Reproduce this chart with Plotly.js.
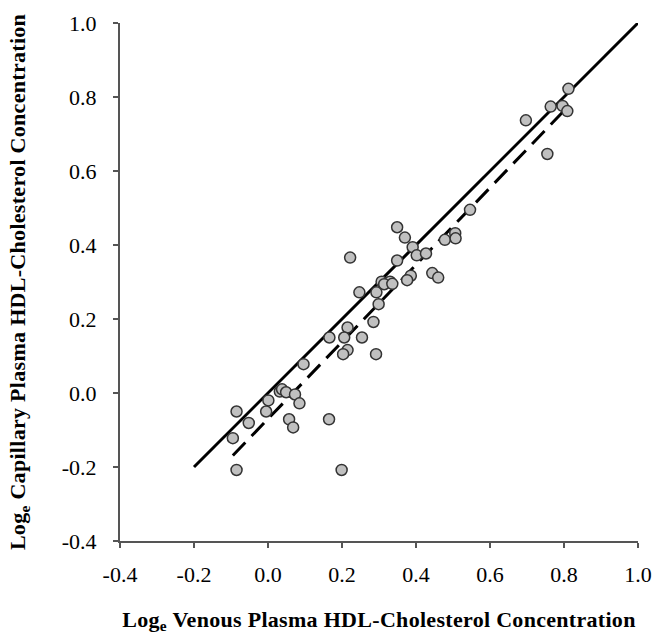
<!DOCTYPE html>
<html>
<head>
<meta charset="utf-8">
<script src="https://cdn.plot.ly/plotly-3.0.1.min.js"></script>
<style>html,body{margin:0;padding:0;background:#fff;}#chart{width:656px;height:641px;}
.xtitle,.ytitle{letter-spacing:0.3px;}</style>
</head>
<body>
<div id="chart"></div>
<script>
// Observed data: log_e venous (x) vs log_e capillary (y) HDL-cholesterol
const venous = [0.349,0.370,0.391,0.402,0.427,0.222,0.349,0.386,0.376,0.444,0.460,0.307,0.330,0.314,0.336,0.247,0.293,0.299,0.285,0.215,0.166,0.206,0.254,0.215,0.203,0.292,0.096,0.032,0.038,0.049,0.073,0.085,0.001,-0.085,-0.005,-0.052,0.057,0.068,0.165,-0.095,-0.085,0.199,0.478,0.506,0.507,0.812,0.764,0.796,0.809,0.697,0.755,0.546];
const capillary = [0.448,0.420,0.394,0.372,0.377,0.366,0.358,0.317,0.305,0.324,0.312,0.301,0.301,0.294,0.295,0.272,0.272,0.240,0.192,0.177,0.150,0.150,0.150,0.116,0.105,0.105,0.078,0.004,0.010,0.002,-0.004,-0.028,-0.020,-0.050,-0.050,-0.081,-0.071,-0.093,-0.071,-0.122,-0.208,-0.208,0.414,0.432,0.418,0.822,0.774,0.776,0.762,0.737,0.646,0.495];
// Line of identity
const identityX = [-0.2, 1.0];
const identityY = [-0.2, 1.0];
// Fitted regression line
const fitX = [-0.095, 0.80];
const fitY = [-0.169, 0.763];
const tickVals = [-0.4,-0.2,0.0,0.2,0.4,0.6,0.8,1.0];
const tickText = ["-0.4","-0.2","0.0","0.2","0.4","0.6","0.8","1.0"];

const traces = [
  {x: identityX, y: identityY, mode:'lines', line:{color:'#000', width:3}, hoverinfo:'skip'},
  {x: fitX, y: fitY, mode:'lines', line:{color:'#000', width:3, dash:'18px,9px'}, hoverinfo:'skip'},
  {x: venous, y: capillary, mode:'markers', marker:{size:11, color:'#c0c0c0', line:{color:'#333', width:1.5}}}
];
const tickFont = {family:'Liberation Serif', size:22, color:'#000'};
const titleFont = {family:'Liberation Serif', size:22, color:'#000', weight:'bold'};
const layout = {
  width:656, height:641,
  margin:{l:120, r:18, t:23, b:100},
  showlegend:false,
  paper_bgcolor:'#fff', plot_bgcolor:'#fff',
  xaxis:{range:[-0.4,1.0], tickvals:tickVals, ticktext:tickText, showgrid:false, zeroline:false,
    showline:true, linecolor:'#555', linewidth:2, ticks:'outside', ticklen:5, tickwidth:2, tickcolor:'#555',
    tickfont:tickFont, ticklabelstandoff:8,
    title:{text:'<b>Log<sub>e</sub> Venous Plasma HDL-Cholesterol Concentration</b>', font:titleFont, standoff:25}},
  yaxis:{range:[-0.4,1.0], tickvals:tickVals, ticktext:tickText, showgrid:false, zeroline:false,
    showline:true, linecolor:'#555', linewidth:2, ticks:'outside', ticklen:5, tickwidth:2, tickcolor:'#555',
    tickfont:tickFont, ticklabelstandoff:12,
    title:{text:'<b>Log<sub>e</sub> Capillary Plasma HDL-Cholesterol Concentration</b>', font:titleFont, standoff:30}}
};
Plotly.newPlot('chart', traces, layout, {displayModeBar:false, staticPlot:true});
</script>
</body>
</html>
